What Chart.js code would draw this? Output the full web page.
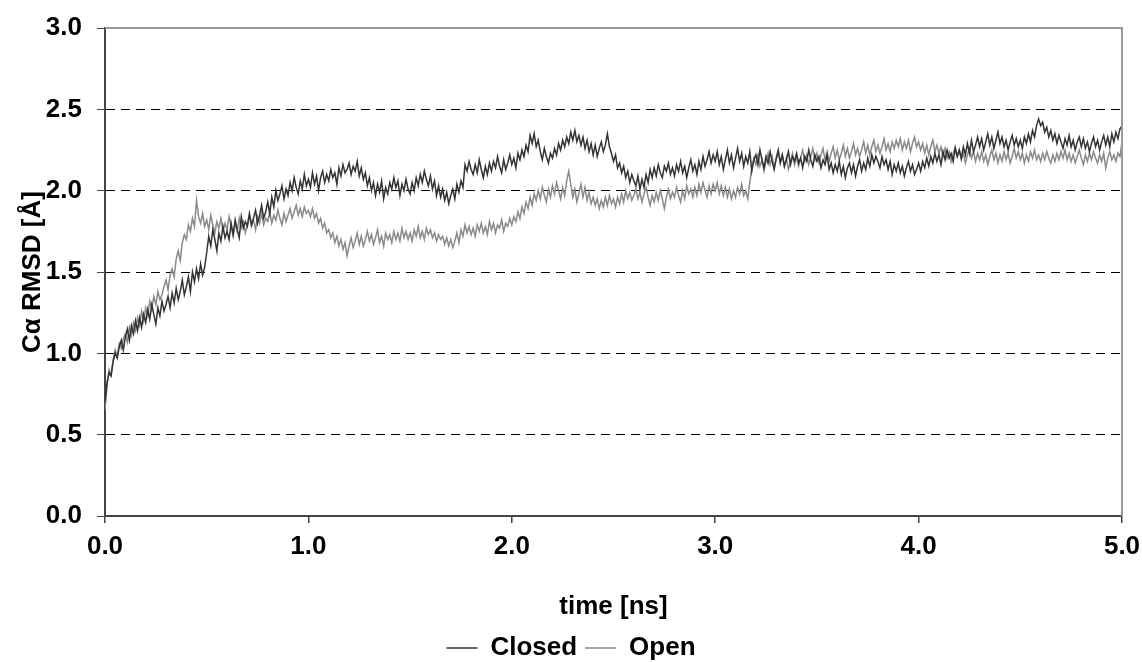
<!DOCTYPE html>
<html>
<head>
<meta charset="utf-8">
<script src="https://cdn.jsdelivr.net/npm/chart.js@4.4.1/dist/chart.umd.min.js"></script>
<style>
  html, body { margin: 0; padding: 0; background: #fff; }
  #wrap { width: 1142px; height: 662px; position: relative; }
</style>
</head>
<body>
<div id="wrap"><canvas id="chart"></canvas></div>
<script>
const closedRmsd = [
  0.70, 0.82, 0.88, 0.86, 0.95, 1.00, 0.97, 1.04, 1.08, 1.02,
  1.10, 1.15, 1.08, 1.17, 1.12, 1.20, 1.14, 1.22, 1.16, 1.24,
  1.19, 1.27, 1.21, 1.30, 1.24, 1.18, 1.28, 1.23, 1.32, 1.26,
  1.30, 1.35, 1.28, 1.37, 1.31, 1.40, 1.33, 1.38, 1.45, 1.36,
  1.41, 1.47, 1.38, 1.50, 1.44, 1.52, 1.46, 1.55, 1.48, 1.53,
  1.62, 1.72, 1.66, 1.76, 1.70, 1.63, 1.74, 1.69, 1.78, 1.71,
  1.75, 1.70, 1.80, 1.73, 1.82, 1.76, 1.71, 1.84, 1.77, 1.81,
  1.78, 1.86, 1.79, 1.83, 1.88, 1.80, 1.85, 1.91, 1.83, 1.87,
  1.93, 1.86, 1.96, 1.90, 2.00, 1.94, 1.98, 2.03, 1.95, 2.01,
  1.97, 2.05, 2.00, 2.08, 2.02, 1.98, 2.06, 2.01, 2.10, 2.03,
  2.07, 2.02, 2.11, 2.04, 2.09, 2.00, 2.08, 2.12, 2.05, 2.10,
  2.06, 2.13, 2.08, 2.11, 2.04, 2.14, 2.09, 2.16, 2.11, 2.13,
  2.17, 2.10, 2.15, 2.12, 2.18, 2.09, 2.14, 2.07, 2.11, 2.03,
  2.08, 2.00, 2.05, 1.97, 2.04, 1.99, 2.06, 1.95, 2.02, 1.98,
  2.05, 2.01, 2.08, 2.02, 2.06, 1.97, 2.04, 2.00, 2.07, 2.01,
  1.98, 2.05, 2.00, 2.08, 2.03, 2.10, 2.05, 2.12, 2.07, 2.03,
  2.09, 2.01, 2.06, 1.97, 2.03, 1.96, 2.01, 1.94, 1.99, 1.92,
  1.97, 2.01, 1.95, 2.04, 1.99, 2.06, 2.02, 2.16, 2.12, 2.18,
  2.13, 2.10, 2.16, 2.11, 2.19, 2.13, 2.08, 2.15, 2.10, 2.17,
  2.12, 2.18, 2.14, 2.21, 2.15, 2.11, 2.19, 2.13, 2.17, 2.22,
  2.16, 2.20, 2.14, 2.23, 2.19, 2.25, 2.21, 2.28, 2.24, 2.34,
  2.29, 2.35, 2.27, 2.31, 2.24, 2.19, 2.26, 2.21, 2.17, 2.23,
  2.20, 2.26, 2.22, 2.29, 2.25, 2.31, 2.27, 2.33, 2.29, 2.36,
  2.31, 2.37, 2.30, 2.34, 2.28, 2.33, 2.26, 2.31, 2.24, 2.29,
  2.22, 2.28, 2.21, 2.26, 2.30, 2.24, 2.28, 2.35, 2.27, 2.23,
  2.18, 2.22, 2.14, 2.17, 2.11, 2.15, 2.08, 2.12, 2.05, 2.10,
  2.06, 2.03, 2.09, 2.01, 2.07, 2.02, 2.10, 2.05, 2.13, 2.08,
  2.14, 2.09, 2.16, 2.11, 2.08, 2.15, 2.12, 2.17, 2.10, 2.14,
  2.09, 2.16, 2.12, 2.18, 2.11, 2.15, 2.08, 2.14, 2.19, 2.12,
  2.16, 2.10, 2.18, 2.13, 2.21, 2.15, 2.19, 2.24, 2.17, 2.22,
  2.18, 2.24, 2.16, 2.21, 2.13, 2.19, 2.25, 2.17, 2.22, 2.14,
  2.20, 2.26, 2.18, 2.23, 2.15, 2.21, 2.17, 2.24, 2.12, 2.19,
  2.22, 2.16, 2.25, 2.19, 2.14, 2.21, 2.17, 2.24, 2.18, 2.13,
  2.20, 2.25, 2.17, 2.22, 2.15, 2.19, 2.24, 2.16, 2.21, 2.18,
  2.23, 2.17, 2.20, 2.14, 2.21, 2.18, 2.25, 2.19, 2.15, 2.22,
  2.18, 2.21, 2.14, 2.19, 2.16, 2.22, 2.13, 2.17, 2.11, 2.16,
  2.12, 2.18, 2.10, 2.15, 2.08, 2.14, 2.17, 2.11, 2.16, 2.09,
  2.15, 2.19, 2.12, 2.17, 2.13, 2.20, 2.15, 2.22, 2.17, 2.21,
  2.18, 2.14, 2.21, 2.16, 2.19, 2.13, 2.18, 2.10, 2.16, 2.12,
  2.17, 2.11, 2.15, 2.09, 2.14, 2.18, 2.12, 2.16, 2.10, 2.13,
  2.17, 2.12, 2.18, 2.14, 2.20, 2.15, 2.21, 2.17, 2.23, 2.18,
  2.22, 2.16, 2.24, 2.19, 2.25, 2.20, 2.23, 2.18, 2.26, 2.21,
  2.25, 2.20, 2.27, 2.22, 2.29, 2.23, 2.31, 2.24, 2.28, 2.33,
  2.27, 2.32, 2.25, 2.30, 2.35, 2.28, 2.33, 2.26, 2.31, 2.36,
  2.29, 2.33, 2.27, 2.31, 2.25, 2.30, 2.34, 2.28, 2.32, 2.27,
  2.31, 2.26, 2.33, 2.29, 2.35, 2.30, 2.37, 2.33, 2.40, 2.44,
  2.40, 2.42, 2.36, 2.39, 2.33, 2.37, 2.31, 2.35, 2.29, 2.34,
  2.30, 2.26, 2.32, 2.28, 2.34, 2.27, 2.31, 2.25, 2.30, 2.33,
  2.27, 2.32, 2.26, 2.30, 2.24, 2.29, 2.33, 2.27, 2.31, 2.25,
  2.30, 2.34, 2.28, 2.33, 2.27, 2.35, 2.30, 2.36, 2.32, 2.38,
  2.40
];

const openRmsd = [
  0.65, 0.80, 0.90, 0.87, 0.96, 1.02, 0.98, 1.06, 1.03, 1.09,
  1.12, 1.07, 1.16, 1.11, 1.19, 1.14, 1.22, 1.17, 1.26, 1.20,
  1.28, 1.23, 1.32, 1.27, 1.35, 1.30, 1.38, 1.33, 1.36, 1.41,
  1.45, 1.39, 1.48, 1.52, 1.47, 1.58, 1.63, 1.57, 1.68, 1.73,
  1.70, 1.79, 1.75, 1.83, 1.78, 1.94, 1.84, 1.80, 1.86, 1.78,
  1.82, 1.76, 1.85, 1.79, 1.74, 1.81, 1.77, 1.83, 1.75, 1.80,
  1.76, 1.84, 1.78, 1.72, 1.80, 1.75, 1.83, 1.77, 1.81, 1.74,
  1.79, 1.85, 1.78, 1.82, 1.76, 1.84, 1.80, 1.86, 1.79, 1.83,
  1.81, 1.87, 1.80, 1.85, 1.82, 1.88, 1.83, 1.79, 1.86, 1.81,
  1.85, 1.89, 1.83, 1.87, 1.91, 1.85, 1.89, 1.84, 1.90, 1.86,
  1.88, 1.84, 1.89, 1.83, 1.86, 1.80, 1.83, 1.77, 1.80, 1.74,
  1.76, 1.71, 1.74, 1.68, 1.72, 1.66, 1.70, 1.64, 1.68, 1.60,
  1.66, 1.71, 1.65, 1.69, 1.74, 1.67, 1.72, 1.66, 1.70, 1.75,
  1.69, 1.73, 1.67, 1.71, 1.76, 1.68, 1.72, 1.66, 1.74, 1.70,
  1.73, 1.68, 1.75, 1.70, 1.74, 1.69, 1.77, 1.71, 1.75, 1.70,
  1.74, 1.69, 1.76, 1.72, 1.78, 1.71, 1.75, 1.70, 1.77, 1.73,
  1.76, 1.71, 1.74, 1.69, 1.73, 1.70, 1.72, 1.67, 1.71, 1.66,
  1.70, 1.65, 1.69, 1.74, 1.68, 1.76, 1.72, 1.79, 1.74, 1.78,
  1.73, 1.77, 1.72, 1.79, 1.75, 1.80, 1.74, 1.78, 1.73, 1.81,
  1.76, 1.80, 1.74, 1.79, 1.77, 1.82, 1.75, 1.80, 1.78, 1.83,
  1.79, 1.84, 1.81, 1.87, 1.83, 1.90, 1.86, 1.93, 1.89, 1.96,
  1.91, 1.98, 1.94, 2.00, 1.95, 2.02, 1.97, 1.93, 2.01, 1.96,
  2.03, 1.98, 2.05, 2.00, 1.95, 2.02, 1.97, 2.06, 2.12, 2.04,
  1.96, 2.01, 1.93, 1.98, 2.04, 1.96, 2.02, 1.94, 1.99, 1.92,
  1.96, 1.91, 1.95, 1.89, 1.94, 1.90, 1.96, 1.91, 1.97, 1.92,
  1.95, 1.90, 1.96, 1.92, 1.98, 1.93, 2.00, 1.95, 1.99, 1.94,
  1.97, 2.01, 1.95, 1.99, 1.93, 1.98, 2.02, 1.96, 1.91, 1.97,
  1.93, 1.99, 1.94, 2.00, 1.95, 1.89, 1.96, 2.01, 1.95, 1.99,
  1.96, 2.02, 1.97, 1.93, 2.00, 1.95, 2.03, 1.98, 2.01, 1.96,
  2.02, 1.97, 2.04, 1.99, 2.05, 2.00, 1.96, 2.03, 1.98, 2.04,
  2.00, 2.05, 1.98, 2.03, 1.97, 2.02, 1.96, 2.01, 1.95, 2.00,
  1.96, 2.02, 1.98, 2.04, 1.97, 2.00, 1.95, 2.05, 2.14, 2.20,
  2.16, 2.22, 2.15, 2.19, 2.12, 2.18, 2.23, 2.16, 2.21, 2.14,
  2.19, 2.24, 2.17, 2.22, 2.15, 2.20, 2.13, 2.18, 2.23, 2.16,
  2.21, 2.15, 2.20, 2.25, 2.18, 2.22, 2.16, 2.21, 2.26, 2.19,
  2.23, 2.17, 2.22, 2.26, 2.19, 2.24, 2.18, 2.23, 2.27, 2.20,
  2.25, 2.19, 2.23, 2.28, 2.21, 2.26, 2.20, 2.24, 2.29, 2.22,
  2.26, 2.21, 2.25, 2.30, 2.23, 2.28, 2.22, 2.27, 2.31, 2.24,
  2.28, 2.23, 2.27, 2.32, 2.25, 2.29, 2.24, 2.30, 2.26, 2.31,
  2.27, 2.32, 2.25, 2.30, 2.26, 2.31, 2.24, 2.29, 2.33, 2.27,
  2.30, 2.25, 2.29, 2.23, 2.28, 2.22, 2.27, 2.31, 2.24, 2.28,
  2.23, 2.27, 2.21, 2.26, 2.20, 2.24, 2.18, 2.23, 2.27, 2.21,
  2.25, 2.19, 2.23, 2.17, 2.22, 2.26, 2.20, 2.24, 2.18, 2.23,
  2.19, 2.24, 2.18, 2.22, 2.16, 2.21, 2.25, 2.19, 2.23, 2.17,
  2.22, 2.18, 2.24, 2.19, 2.23, 2.17, 2.21, 2.26, 2.20, 2.24,
  2.19, 2.23, 2.17, 2.22, 2.18, 2.24, 2.20, 2.25, 2.19, 2.22,
  2.18, 2.23, 2.19, 2.24, 2.20, 2.17, 2.22, 2.18, 2.23, 2.19,
  2.24, 2.20, 2.25, 2.19, 2.23, 2.18, 2.22, 2.17, 2.21, 2.25,
  2.20, 2.16, 2.22, 2.18, 2.23, 2.19, 2.24, 2.20, 2.17, 2.22,
  2.18, 2.23, 2.14, 2.20, 2.24, 2.19, 2.22, 2.18, 2.23, 2.21,
  2.30
];

const timeStep = 0.01; // ns between samples
const xTicks = [0, 1, 2, 3, 4, 5];
const yTicks = [0, 0.5, 1, 1.5, 2, 2.5, 3];

const font = { family: "'Liberation Sans', Arial, sans-serif", size: 26, weight: "bold" };

function toPoints(values) {
  return values.map((v, i) => ({ x: +(i * timeStep).toFixed(2), y: v }));
}

// light gray top/right frame of the plot area
const framePlugin = {
  id: "frame",
  afterDatasetsDraw(chart) {
    const { ctx, chartArea: a } = chart;
    ctx.save();
    ctx.strokeStyle = "#9a9a9a";
    ctx.lineWidth = 2;
    ctx.beginPath();
    ctx.moveTo(a.left, a.top);
    ctx.lineTo(a.right, a.top);
    ctx.lineTo(a.right, a.bottom);
    ctx.stroke();
    ctx.restore();
  }
};

const ctx = document.getElementById("chart").getContext("2d");
const chart = new Chart(ctx, {
  type: "line",
  data: {
    datasets: [
      {
        label: "Closed",
        data: toPoints(closedRmsd),
        borderColor: "#333333",
        borderWidth: 1.5,
        pointRadius: 0,
        tension: 0
      },
      {
        label: "Open",
        data: toPoints(openRmsd),
        borderColor: "#8a8a8a",
        borderWidth: 1.5,
        pointRadius: 0,
        tension: 0
      }
    ]
  },
  options: {
    responsive: true,
    maintainAspectRatio: false,
    animation: false,
    layout: { padding: { top: 28, right: 0, left: 0, bottom: -9 } },
    plugins: {
      tooltip: { enabled: false },
      legend: {
        position: "bottom",
        labels: {
          color: "#000",
          font: font,
          usePointStyle: true,
          pointStyle: "line",
          pointStyleWidth: 31,
          padding: 8
        }
      }
    },
    scales: {
      x: {
        type: "linear",
        min: 0,
        max: 5,
        afterBuildTicks: (s) => { s.ticks = xTicks.map(v => ({ value: v })); },
        afterFit: (s) => {
          s.height = 111;
          s.paddingLeft = 0;
          s.paddingRight = 20;
        },
        ticks: {
          color: "#000",
          font: font,
          padding: 8,
          maxRotation: 0,
          callback: (v) => Number(v).toFixed(1)
        },
        grid: {
          drawOnChartArea: false,
          drawTicks: true,
          tickLength: 7,
          color: "#444",
          lineWidth: 1.5
        },
        border: { color: "#444", width: 2 },
        title: {
          display: true,
          text: "time [ns]",
          color: "#000",
          font: font,
          padding: { top: 20, bottom: 5 }
        }
      },
      y: {
        min: 0,
        max: 3,
        afterBuildTicks: (s) => { s.ticks = yTicks.map(v => ({ value: v })); },
        afterFit: (s) => {
          s.width = 105;
          s.paddingTop = 0;
          s.paddingBottom = 0;
        },
        ticks: {
          color: "#000",
          font: font,
          padding: 15,
          callback: (v) => Number(v).toFixed(1)
        },
        grid: {
          color: (c) => (c.tick && c.tick.value > 0 && c.tick.value < 3) ? "#000" : "rgba(0,0,0,0)",
          tickColor: "#444",
          lineWidth: 1,
          drawTicks: true,
          tickLength: 8,
          tickBorderDash: []
        },
        border: { color: "#444", width: 2, dash: [9, 6] },
        title: {
          display: true,
          text: "Cα RMSD [Å]",
          color: "#000",
          font: font,
          padding: { top: 17, bottom: 0 }
        }
      }
    }
  },
  plugins: [framePlugin]
});
</script>
</body>
</html>
